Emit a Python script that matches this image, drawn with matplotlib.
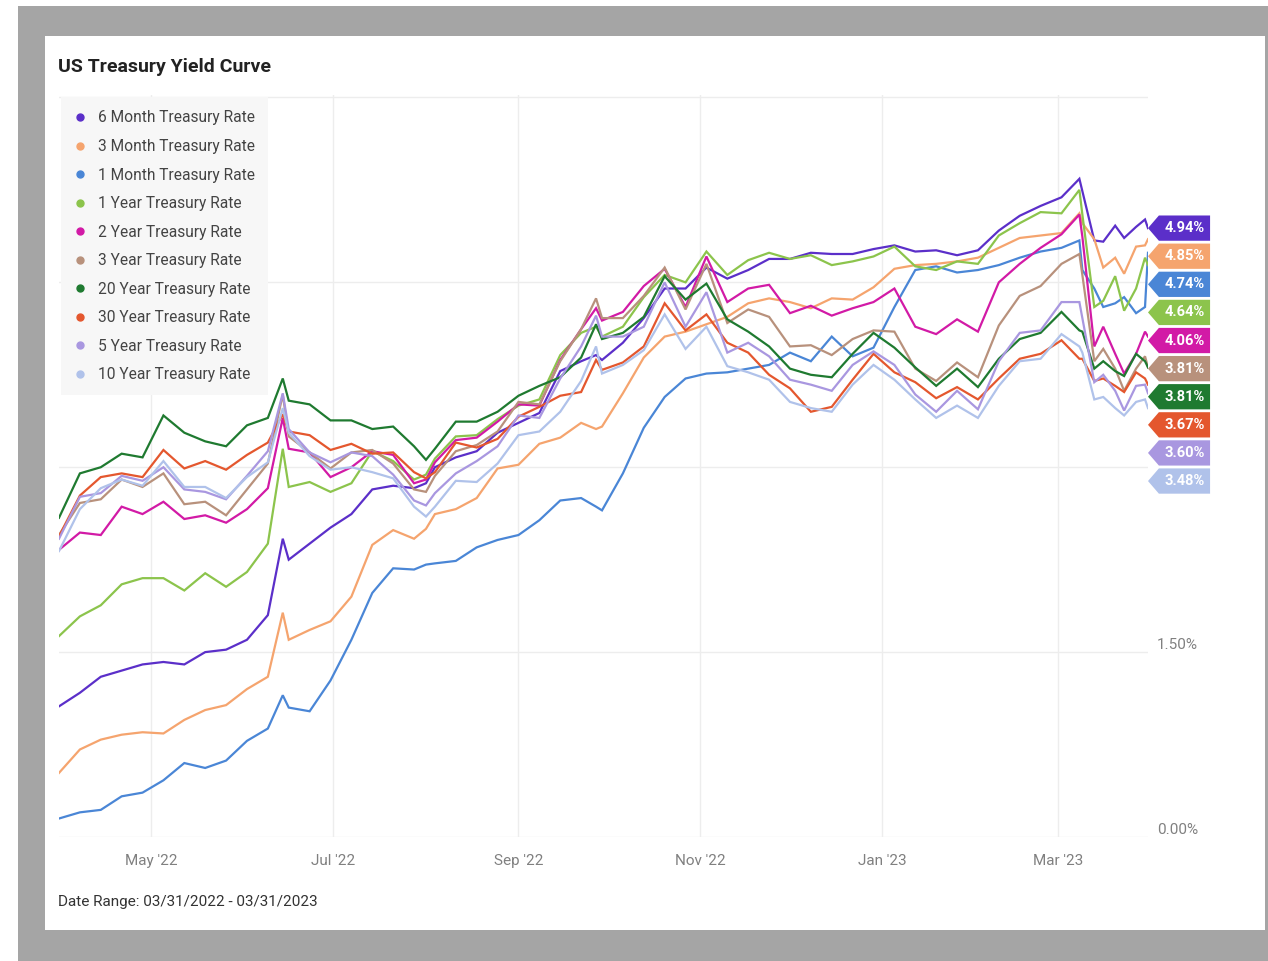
import matplotlib
matplotlib.use("Agg")
import matplotlib.pyplot as plt
import matplotlib.dates as mdates
import matplotlib.transforms as mtransforms
from matplotlib.patches import Polygon, Rectangle
from matplotlib.lines import Line2D
import pandas as pd

plt.rcParams['font.family'] = ['Roboto', 'DejaVu Sans']

dates = [
    "2022-03-31", "2022-04-07", "2022-04-14", "2022-04-21", "2022-04-28",
    "2022-05-05", "2022-05-12", "2022-05-19", "2022-05-26", "2022-06-02",
    "2022-06-09", "2022-06-14", "2022-06-16", "2022-06-23", "2022-06-30",
    "2022-07-07", "2022-07-14", "2022-07-21", "2022-07-28", "2022-08-01",
    "2022-08-04", "2022-08-11", "2022-08-18", "2022-08-25", "2022-09-01",
    "2022-09-08", "2022-09-15", "2022-09-22", "2022-09-27", "2022-09-29",
    "2022-10-06", "2022-10-13", "2022-10-20", "2022-10-27", "2022-11-03",
    "2022-11-10", "2022-11-17", "2022-11-24", "2022-12-01", "2022-12-08",
    "2022-12-15", "2022-12-22", "2022-12-29", "2023-01-05", "2023-01-12",
    "2023-01-19", "2023-01-26", "2023-02-02", "2023-02-09", "2023-02-16",
    "2023-02-23", "2023-03-02", "2023-03-08", "2023-03-09", "2023-03-13",
    "2023-03-16", "2023-03-20", "2023-03-23", "2023-03-27", "2023-03-30",
    "2023-03-31"]

six_month = [1.06, 1.17, 1.30, 1.35, 1.40, 1.42, 1.40, 1.50, 1.52, 1.60,
             1.80, 2.42, 2.25, 2.38, 2.51, 2.62, 2.82, 2.85, 2.83, 2.87,
             3.00, 3.08, 3.13, 3.28, 3.36, 3.44, 3.78, 3.86, 3.91, 3.87,
             4.01, 4.21, 4.45, 4.45, 4.62, 4.53, 4.60, 4.69, 4.69, 4.74,
             4.73, 4.73, 4.77, 4.80, 4.75, 4.76, 4.72, 4.76, 4.92, 5.04,
             5.12, 5.19, 5.34, 5.24, 4.84, 4.83, 4.96, 4.86, 4.95, 5.01,
             4.94]
three_month = [0.52, 0.71, 0.79, 0.83, 0.85, 0.84, 0.95, 1.03, 1.07, 1.20,
               1.30, 1.82, 1.60, 1.68, 1.75, 1.95, 2.37, 2.49, 2.42, 2.50,
               2.62, 2.66, 2.75, 2.99, 3.02, 3.19, 3.24, 3.36, 3.31, 3.33,
               3.60, 3.89, 4.06, 4.10, 4.16, 4.22, 4.33, 4.37, 4.34, 4.29,
               4.37, 4.36, 4.46, 4.61, 4.64, 4.65, 4.67, 4.70, 4.78, 4.86,
               4.88, 4.90, 5.06, 4.98, 4.85, 4.62, 4.70, 4.57, 4.79, 4.80,
               4.85]
one_month = [0.15, 0.20, 0.22, 0.33, 0.36, 0.46, 0.60, 0.56, 0.62, 0.78,
             0.88, 1.15, 1.05, 1.02, 1.27, 1.60, 1.98, 2.18, 2.17, 2.21,
             2.22, 2.24, 2.35, 2.41, 2.45, 2.57, 2.73, 2.75, 2.68, 2.65,
             2.95, 3.32, 3.57, 3.72, 3.76, 3.77, 3.80, 3.83, 3.93, 3.86,
             4.06, 3.90, 3.97, 4.30, 4.60, 4.63, 4.58, 4.60, 4.64, 4.70,
             4.75, 4.78, 4.84, 4.60, 4.45, 4.30, 4.33, 4.38, 4.25, 4.30,
             4.74]
one_year = [1.63, 1.79, 1.88, 2.05, 2.10, 2.10, 2.00, 2.14, 2.03, 2.15,
            2.38, 3.15, 2.84, 2.88, 2.80, 2.87, 3.13, 3.05, 2.90, 2.94,
            3.07, 3.25, 3.26, 3.39, 3.50, 3.55, 3.91, 4.09, 4.14, 4.06,
            4.14, 4.38, 4.56, 4.50, 4.75, 4.56, 4.68, 4.74, 4.69, 4.72,
            4.64, 4.67, 4.71, 4.79, 4.63, 4.60, 4.67, 4.65, 4.88, 4.98,
            5.07, 5.06, 5.25, 5.05, 4.30, 4.35, 4.55, 4.27, 4.45, 4.70,
            4.64]
two_year = [2.33, 2.47, 2.45, 2.68, 2.62, 2.72, 2.58, 2.61, 2.55, 2.66,
            2.83, 3.40, 3.15, 3.12, 2.92, 3.00, 3.13, 3.10, 2.87, 2.90,
            3.04, 3.22, 3.24, 3.37, 3.51, 3.50, 3.87, 4.12, 4.29, 4.19,
            4.26, 4.47, 4.61, 4.30, 4.71, 4.34, 4.45, 4.48, 4.25, 4.31,
            4.23, 4.29, 4.34, 4.45, 4.14, 4.08, 4.20, 4.10, 4.50, 4.65,
            4.78, 4.89, 5.05, 4.87, 3.98, 4.14, 3.92, 3.76, 3.92, 4.10,
            4.06]
three_year = [2.45, 2.71, 2.74, 2.90, 2.84, 2.95, 2.70, 2.72, 2.61, 2.82,
              3.03, 3.59, 3.25, 3.12, 2.99, 3.12, 3.14, 3.03, 2.82, 2.80,
              2.93, 3.13, 3.18, 3.29, 3.53, 3.51, 3.86, 4.12, 4.37, 4.21,
              4.21, 4.39, 4.62, 4.28, 4.65, 4.17, 4.28, 4.22, 3.98, 3.99,
              3.91, 4.04, 4.11, 4.10, 3.80, 3.70, 3.85, 3.73, 4.15, 4.39,
              4.47, 4.65, 4.73, 4.56, 3.86, 3.96, 3.80, 3.62, 3.80, 3.90,
              3.81]
twenty_year = [2.59, 2.95, 3.00, 3.11, 3.08, 3.42, 3.28, 3.21, 3.17, 3.34,
               3.40, 3.72, 3.54, 3.51, 3.38, 3.38, 3.31, 3.33, 3.17, 3.06,
               3.15, 3.37, 3.37, 3.45, 3.58, 3.66, 3.73, 3.89, 4.16, 4.04,
               4.09, 4.22, 4.55, 4.36, 4.49, 4.20, 4.10, 3.98, 3.80, 3.75,
               3.73, 3.92, 4.09, 3.97, 3.81, 3.66, 3.80, 3.65, 3.88, 4.04,
               4.09, 4.26, 4.11, 4.10, 3.80, 3.86, 3.78, 3.74, 3.92, 3.86,
               3.81]
thirty_year = [2.44, 2.77, 2.92, 2.95, 2.92, 3.14, 2.99, 3.05, 2.98, 3.10,
               3.20, 3.43, 3.29, 3.26, 3.14, 3.19, 3.11, 3.12, 2.96, 2.91,
               2.96, 3.20, 3.16, 3.23, 3.41, 3.49, 3.58, 3.61, 3.87, 3.79,
               3.85, 3.98, 4.33, 4.11, 4.24, 4.01, 3.93, 3.75, 3.64, 3.45,
               3.49, 3.71, 3.92, 3.77, 3.69, 3.56, 3.65, 3.55, 3.72, 3.88,
               3.92, 4.03, 3.88, 3.88, 3.70, 3.72, 3.66, 3.61, 3.77, 3.72,
               3.67]
five_year = [2.42, 2.76, 2.79, 2.93, 2.89, 3.00, 2.82, 2.80, 2.74, 2.93,
             3.13, 3.60, 3.31, 3.12, 3.04, 3.12, 3.09, 2.94, 2.73, 2.69,
             2.79, 2.95, 3.05, 3.17, 3.42, 3.40, 3.72, 3.98, 4.23, 4.06,
             4.06, 4.14, 4.50, 4.14, 4.42, 3.93, 4.01, 3.90, 3.71, 3.67,
             3.62, 3.83, 3.94, 3.83, 3.59, 3.45, 3.62, 3.47, 3.86, 4.09,
             4.11, 4.34, 4.34, 4.21, 3.69, 3.75, 3.62, 3.46, 3.66, 3.67,
             3.60]
ten_year = [2.32, 2.66, 2.83, 2.90, 2.85, 3.05, 2.84, 2.84, 2.75, 2.92,
            3.04, 3.48, 3.28, 3.09, 2.98, 3.00, 2.96, 2.91, 2.68, 2.60,
            2.68, 2.89, 2.88, 3.03, 3.26, 3.29, 3.45, 3.70, 3.98, 3.76,
            3.83, 3.95, 4.24, 3.96, 4.14, 3.82, 3.77, 3.71, 3.53, 3.48,
            3.45, 3.67, 3.83, 3.71, 3.55, 3.40, 3.50, 3.40, 3.66, 3.86,
            3.88, 4.08, 3.98, 3.93, 3.55, 3.57, 3.48, 3.42, 3.53, 3.55,
            3.48]

names = ["6 Month Treasury Rate", "3 Month Treasury Rate", "1 Month Treasury Rate",
         "1 Year Treasury Rate", "2 Year Treasury Rate", "3 Year Treasury Rate",
         "20 Year Treasury Rate", "30 Year Treasury Rate", "5 Year Treasury Rate",
         "10 Year Treasury Rate"]
series = [six_month, three_month, one_month, one_year, two_year, three_year,
          twenty_year, thirty_year, five_year, ten_year]
colors = ["#5b2fc9", "#f5a46e", "#4a86d6", "#8cc44c", "#d21aa6",
          "#b8917c", "#1f7a30", "#e4572e", "#a997e0", "#b0c2ea"]

x = pd.to_datetime(dates)
W, H = 1268, 961

fig = plt.figure(figsize=(W / 100, H / 100), dpi=100)
fig.patch.set_facecolor("white")
# grey screenshot frame
fig.patches.append(Rectangle((18 / W, 0), 1 - 18 / W, 1 - 6 / H, transform=fig.transFigure,
                             facecolor="#a5a5a5", edgecolor="none", zorder=-2))
fig.patches.append(Rectangle((45 / W, 1 - 930 / H), (1265 - 45) / W, (930 - 36) / H,
                             transform=fig.transFigure, facecolor="white",
                             edgecolor="none", zorder=-1))

ax = fig.add_axes([59 / W, 1 - 837 / H, 1089 / W, 742 / H])
ax.set_facecolor("white")

for vals, c in zip(series, colors):
    ax.plot(x, vals, color=c, lw=1.6, solid_joinstyle="miter", zorder=3)

ax.set_xlim(pd.Timestamp("2022-03-31"), pd.Timestamp("2023-03-31"))
ax.set_ylim(0, 6.02)
for s in ax.spines.values():
    s.set_visible(False)

ax.set_yticks([0, 1.5, 3.0, 4.5, 6.0])
ax.yaxis.set_ticklabels([])
ax.tick_params(axis="y", length=0)
ax.xaxis.set_major_locator(mdates.MonthLocator(bymonth=[1, 3, 5, 7, 9, 11]))
ax.xaxis.set_major_formatter(mdates.DateFormatter("%b '%y"))
ax.tick_params(axis="x", length=0, pad=12, labelsize=11, labelcolor="#808080")
ax.grid(True, color="#ededed", lw=1, zorder=0)

trans = mtransforms.blended_transform_factory(ax.transAxes, ax.transData)
for v in [0.0, 1.5]:
    ax.text(1.008, v + 0.06, f"{v:.2f}%", transform=trans, ha="left", va="center",
            fontsize=11, color="#808080")

# end-of-line value tags, stacked from the top
gap = 0.228
h = 0.205
prev = None
for vals, c in zip(series, colors):
    v = vals[-1]
    pos = v if prev is None else min(v, prev - gap)
    prev = pos
    x0, xt, x1 = 1.0, 1.010, 1.057
    poly = Polygon([(x0, pos), (xt, pos + h / 2), (x1, pos + h / 2),
                    (x1, pos - h / 2), (xt, pos - h / 2)], closed=True,
                   transform=trans, facecolor=c, edgecolor="none",
                   clip_on=False, zorder=5)
    ax.add_patch(poly)
    ax.text((xt + x1) / 2, pos, f"{v:.2f}%", transform=trans, ha="center",
            va="center", fontsize=10.5, fontweight="bold", color="white",
            clip_on=False, zorder=6)

handles = [Line2D([], [], marker="o", ls="", color=c, markersize=5) for c in colors]
leg = ax.legend(handles, names, loc="upper left", bbox_to_anchor=(0.002, 0.997),
                frameon=True, fancybox=False, facecolor="#f7f7f7", edgecolor="none",
                framealpha=1, fontsize=11.2, labelspacing=0.87, handlelength=0.7,
                handletextpad=0.8, borderpad=0.85, borderaxespad=0)
for t in leg.get_texts():
    t.set_color("#444444")
leg.set_zorder(4)

fig.text(58 / W, 1 - 67 / H, "US Treasury Yield Curve", fontsize=14, fontweight="bold",
         color="#222222", va="center", ha="left")
fig.text(58 / W, 1 - 902 / H, "Date Range: 03/31/2022 - 03/31/2023", fontsize=11,
         color="#333333", va="center", ha="left")

fig.savefig("out.png", dpi=100, facecolor=fig.get_facecolor())
